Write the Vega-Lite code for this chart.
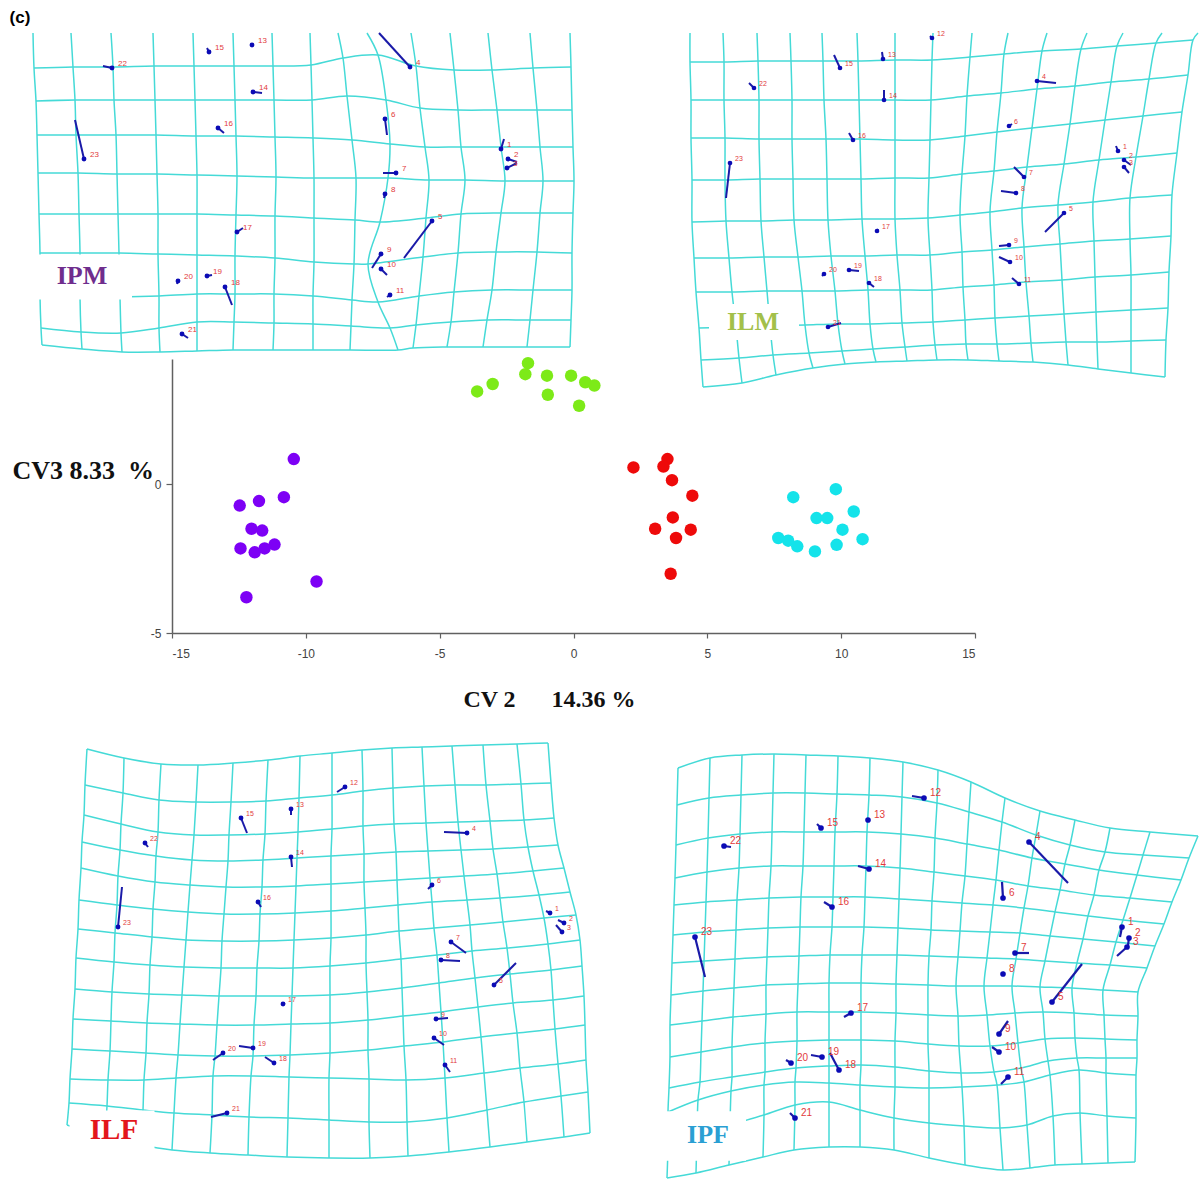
{
"$schema": "https://vega.github.io/schema/vega-lite/v6.json",
"width": 803, "height": 274,
"autosize": {"type": "none"},
"padding": {"left": 172, "top": 359, "right": 226, "bottom": 551},
"background": "white",
"config": {"view": {"stroke": null}},
"datasets": {
"cv": [
{"g":"IPM","cv2":-10.45,"cv3":0.84},{"g":"IPM","cv2":-10.82,"cv3":-0.44},{"g":"IPM","cv2":-11.75,"cv3":-0.57},{"g":"IPM","cv2":-12.47,"cv3":-0.72},{"g":"IPM","cv2":-12.03,"cv3":-1.5},{"g":"IPM","cv2":-11.63,"cv3":-1.56},{"g":"IPM","cv2":-12.44,"cv3":-2.16},{"g":"IPM","cv2":-11.91,"cv3":-2.29},{"g":"IPM","cv2":-11.54,"cv3":-2.16},{"g":"IPM","cv2":-11.17,"cv3":-2.03},{"g":"IPM","cv2":-9.6,"cv3":-3.27},{"g":"IPM","cv2":-12.22,"cv3":-3.8},
{"g":"ILM","cv2":-3.6,"cv3":3.11},{"g":"ILM","cv2":-3.02,"cv3":3.36},{"g":"ILM","cv2":-1.7,"cv3":4.06},{"g":"ILM","cv2":-1.8,"cv3":3.69},{"g":"ILM","cv2":-0.99,"cv3":3.64},{"g":"ILM","cv2":-0.96,"cv3":3.0},{"g":"ILM","cv2":-0.09,"cv3":3.64},{"g":"ILM","cv2":0.21,"cv3":2.63},{"g":"ILM","cv2":0.44,"cv3":3.42},{"g":"ILM","cv2":0.78,"cv3":3.31},
{"g":"ILF","cv2":2.24,"cv3":0.56},{"g":"ILF","cv2":3.51,"cv3":0.84},{"g":"ILF","cv2":3.36,"cv3":0.59},{"g":"ILF","cv2":3.68,"cv3":0.13},{"g":"ILF","cv2":4.44,"cv3":-0.39},{"g":"ILF","cv2":3.71,"cv3":-1.12},{"g":"ILF","cv2":3.05,"cv3":-1.5},{"g":"ILF","cv2":4.38,"cv3":-1.53},{"g":"ILF","cv2":3.83,"cv3":-1.81},{"g":"ILF","cv2":3.63,"cv3":-3.01},
{"g":"IPF","cv2":8.21,"cv3":-0.44},{"g":"IPF","cv2":9.8,"cv3":-0.17},{"g":"IPF","cv2":10.47,"cv3":-0.92},{"g":"IPF","cv2":9.08,"cv3":-1.14},{"g":"IPF","cv2":9.48,"cv3":-1.14},{"g":"IPF","cv2":10.05,"cv3":-1.53},{"g":"IPF","cv2":10.8,"cv3":-1.85},{"g":"IPF","cv2":9.83,"cv3":-2.04},{"g":"IPF","cv2":7.65,"cv3":-1.81},{"g":"IPF","cv2":8.02,"cv3":-1.9},{"g":"IPF","cv2":8.36,"cv3":-2.09},{"g":"IPF","cv2":9.02,"cv3":-2.26}
],
"gIPM": [
{"i":0,"j":0,"x":3,"y":3},{"i":1,"j":0,"x":41,"y":3},{"i":2,"j":0,"x":81,"y":3},{"i":3,"j":0,"x":123,"y":3},{"i":4,"j":0,"x":163,"y":3},{"i":5,"j":0,"x":203,"y":3},{"i":6,"j":0,"x":242,"y":3},{"i":7,"j":0,"x":280,"y":3},{"i":8,"j":0,"x":308,"y":3},{"i":9,"j":0,"x":337,"y":3},{"i":10,"j":0,"x":381,"y":3},{"i":11,"j":0,"x":420,"y":3},{"i":12,"j":0,"x":458,"y":3},{"i":13,"j":0,"x":500,"y":3},{"i":14,"j":0,"x":540,"y":3},
{"i":0,"j":1,"x":4,"y":38},{"i":1,"j":1,"x":43,"y":37},{"i":2,"j":1,"x":83,"y":37},{"i":3,"j":1,"x":124,"y":36},{"i":4,"j":1,"x":164,"y":36},{"i":5,"j":1,"x":204,"y":36},{"i":6,"j":1,"x":243,"y":36},{"i":7,"j":1,"x":281,"y":35},{"i":8,"j":1,"x":313,"y":28},{"i":9,"j":1,"x":348,"y":25},{"i":10,"j":1,"x":386,"y":36},{"i":11,"j":1,"x":424,"y":40},{"i":12,"j":1,"x":462,"y":40},{"i":13,"j":1,"x":503,"y":38},{"i":14,"j":1,"x":541,"y":37},
{"i":0,"j":2,"x":6,"y":71},{"i":1,"j":2,"x":45,"y":70},{"i":2,"j":2,"x":84,"y":70},{"i":3,"j":2,"x":125,"y":70},{"i":4,"j":2,"x":165,"y":70},{"i":5,"j":2,"x":205,"y":70},{"i":6,"j":2,"x":244,"y":70},{"i":7,"j":2,"x":282,"y":70},{"i":8,"j":2,"x":317,"y":66},{"i":9,"j":2,"x":356,"y":70},{"i":10,"j":2,"x":390,"y":78},{"i":11,"j":2,"x":428,"y":80},{"i":12,"j":2,"x":467,"y":80},{"i":13,"j":2,"x":507,"y":80},{"i":14,"j":2,"x":542,"y":80},
{"i":0,"j":3,"x":7,"y":105},{"i":1,"j":3,"x":46,"y":105},{"i":2,"j":3,"x":86,"y":105},{"i":3,"j":3,"x":126,"y":105},{"i":4,"j":3,"x":166,"y":106},{"i":5,"j":3,"x":206,"y":106},{"i":6,"j":3,"x":245,"y":107},{"i":7,"j":3,"x":283,"y":108},{"i":8,"j":3,"x":322,"y":110},{"i":9,"j":3,"x":360,"y":114},{"i":10,"j":3,"x":395,"y":117},{"i":11,"j":3,"x":431,"y":117},{"i":12,"j":3,"x":471,"y":117},{"i":13,"j":3,"x":510,"y":117},{"i":14,"j":3,"x":543,"y":117},
{"i":0,"j":4,"x":8,"y":143},{"i":1,"j":4,"x":48,"y":143},{"i":2,"j":4,"x":87,"y":144},{"i":3,"j":4,"x":127,"y":144},{"i":4,"j":4,"x":167,"y":145},{"i":5,"j":4,"x":207,"y":146},{"i":6,"j":4,"x":246,"y":147},{"i":7,"j":4,"x":284,"y":148},{"i":8,"j":4,"x":326,"y":148},{"i":9,"j":4,"x":358,"y":148},{"i":10,"j":4,"x":399,"y":150},{"i":11,"j":4,"x":435,"y":150},{"i":12,"j":4,"x":475,"y":151},{"i":13,"j":4,"x":513,"y":151},{"i":14,"j":4,"x":544,"y":151},
{"i":0,"j":5,"x":9,"y":184},{"i":1,"j":5,"x":49,"y":184},{"i":2,"j":5,"x":88,"y":184},{"i":3,"j":5,"x":128,"y":184},{"i":4,"j":5,"x":167,"y":184},{"i":5,"j":5,"x":206,"y":185},{"i":6,"j":5,"x":245,"y":186},{"i":7,"j":5,"x":284,"y":188},{"i":8,"j":5,"x":325,"y":190},{"i":9,"j":5,"x":350,"y":192},{"i":10,"j":5,"x":396,"y":188},{"i":11,"j":5,"x":431,"y":184},{"i":12,"j":5,"x":471,"y":183},{"i":13,"j":5,"x":510,"y":183},{"i":14,"j":5,"x":543,"y":183},
{"i":0,"j":6,"x":10,"y":223},{"i":1,"j":6,"x":50,"y":223},{"i":2,"j":6,"x":89,"y":223},{"i":3,"j":6,"x":128,"y":224},{"i":4,"j":6,"x":167,"y":225},{"i":5,"j":6,"x":205,"y":226},{"i":6,"j":6,"x":245,"y":228},{"i":7,"j":6,"x":284,"y":232},{"i":8,"j":6,"x":324,"y":234},{"i":9,"j":6,"x":338,"y":234},{"i":10,"j":6,"x":393,"y":227},{"i":11,"j":6,"x":428,"y":223},{"i":12,"j":6,"x":466,"y":222},{"i":13,"j":6,"x":507,"y":222},{"i":14,"j":6,"x":542,"y":223},
{"i":0,"j":7,"x":10,"y":266},{"i":1,"j":7,"x":50,"y":267},{"i":2,"j":7,"x":90,"y":267},{"i":3,"j":7,"x":129,"y":266},{"i":4,"j":7,"x":167,"y":264},{"i":5,"j":7,"x":205,"y":264},{"i":6,"j":7,"x":244,"y":264},{"i":7,"j":7,"x":283,"y":266},{"i":8,"j":7,"x":322,"y":270},{"i":9,"j":7,"x":348,"y":272},{"i":10,"j":7,"x":389,"y":266},{"i":11,"j":7,"x":424,"y":262},{"i":12,"j":7,"x":462,"y":260},{"i":13,"j":7,"x":503,"y":260},{"i":14,"j":7,"x":542,"y":260},
{"i":0,"j":8,"x":11,"y":298},{"i":1,"j":8,"x":51,"y":302},{"i":2,"j":8,"x":91,"y":303},{"i":3,"j":8,"x":129,"y":298},{"i":4,"j":8,"x":167,"y":292},{"i":5,"j":8,"x":204,"y":292},{"i":6,"j":8,"x":244,"y":293},{"i":7,"j":8,"x":283,"y":294},{"i":8,"j":8,"x":321,"y":296},{"i":9,"j":8,"x":360,"y":298},{"i":10,"j":8,"x":386,"y":295},{"i":11,"j":8,"x":421,"y":292},{"i":12,"j":8,"x":457,"y":290},{"i":13,"j":8,"x":500,"y":290},{"i":14,"j":8,"x":541,"y":290},
{"i":0,"j":9,"x":12,"y":315},{"i":1,"j":9,"x":52,"y":319},{"i":2,"j":9,"x":92,"y":322},{"i":3,"j":9,"x":130,"y":322},{"i":4,"j":9,"x":167,"y":321},{"i":5,"j":9,"x":203,"y":320},{"i":6,"j":9,"x":243,"y":320},{"i":7,"j":9,"x":283,"y":320},{"i":8,"j":9,"x":320,"y":320},{"i":9,"j":9,"x":368,"y":320},{"i":10,"j":9,"x":383,"y":318},{"i":11,"j":9,"x":417,"y":317},{"i":12,"j":9,"x":453,"y":317},{"i":13,"j":9,"x":497,"y":317},{"i":14,"j":9,"x":540,"y":317}
],
"gILM": [
{"i":0,"j":0,"x":0,"y":3},{"i":1,"j":0,"x":33,"y":3},{"i":2,"j":0,"x":67,"y":3},{"i":3,"j":0,"x":100,"y":3},{"i":4,"j":0,"x":132,"y":3},{"i":5,"j":0,"x":167,"y":3},{"i":6,"j":0,"x":205,"y":3},{"i":7,"j":0,"x":243,"y":3},{"i":8,"j":0,"x":282,"y":3},{"i":9,"j":0,"x":318,"y":3},{"i":10,"j":0,"x":357,"y":3},{"i":11,"j":0,"x":397,"y":3},{"i":12,"j":0,"x":433,"y":3},{"i":13,"j":0,"x":472,"y":3},{"i":14,"j":0,"x":508,"y":3},
{"i":0,"j":1,"x":0,"y":32},{"i":1,"j":1,"x":34,"y":32},{"i":2,"j":1,"x":68,"y":31},{"i":3,"j":1,"x":101,"y":31},{"i":4,"j":1,"x":133,"y":31},{"i":5,"j":1,"x":168,"y":31},{"i":6,"j":1,"x":205,"y":30},{"i":7,"j":1,"x":242,"y":30},{"i":8,"j":1,"x":280,"y":27},{"i":9,"j":1,"x":314,"y":24},{"i":10,"j":1,"x":352,"y":21},{"i":11,"j":1,"x":391,"y":19},{"i":12,"j":1,"x":427,"y":16},{"i":13,"j":1,"x":466,"y":13},{"i":14,"j":1,"x":503,"y":10},
{"i":0,"j":2,"x":1,"y":70},{"i":1,"j":2,"x":34,"y":70},{"i":2,"j":2,"x":69,"y":70},{"i":3,"j":2,"x":102,"y":70},{"i":4,"j":2,"x":134,"y":70},{"i":5,"j":2,"x":169,"y":70},{"i":6,"j":2,"x":205,"y":70},{"i":7,"j":2,"x":241,"y":70},{"i":8,"j":2,"x":277,"y":66},{"i":9,"j":2,"x":311,"y":63},{"i":10,"j":2,"x":347,"y":59},{"i":11,"j":2,"x":385,"y":56},{"i":12,"j":2,"x":421,"y":52},{"i":13,"j":2,"x":459,"y":49},{"i":14,"j":2,"x":498,"y":45},
{"i":0,"j":3,"x":1,"y":108},{"i":1,"j":3,"x":35,"y":108},{"i":2,"j":3,"x":69,"y":109},{"i":3,"j":3,"x":102,"y":109},{"i":4,"j":3,"x":136,"y":109},{"i":5,"j":3,"x":170,"y":109},{"i":6,"j":3,"x":205,"y":110},{"i":7,"j":3,"x":240,"y":110},{"i":8,"j":3,"x":275,"y":106},{"i":9,"j":3,"x":307,"y":102},{"i":10,"j":3,"x":342,"y":98},{"i":11,"j":3,"x":380,"y":94},{"i":12,"j":3,"x":415,"y":90},{"i":13,"j":3,"x":453,"y":86},{"i":14,"j":3,"x":492,"y":82},
{"i":0,"j":4,"x":2,"y":150},{"i":1,"j":4,"x":35,"y":150},{"i":2,"j":4,"x":70,"y":149},{"i":3,"j":4,"x":103,"y":149},{"i":4,"j":4,"x":137,"y":149},{"i":5,"j":4,"x":171,"y":149},{"i":6,"j":4,"x":205,"y":148},{"i":7,"j":4,"x":239,"y":148},{"i":8,"j":4,"x":272,"y":144},{"i":9,"j":4,"x":304,"y":141},{"i":10,"j":4,"x":337,"y":137},{"i":11,"j":4,"x":374,"y":134},{"i":12,"j":4,"x":409,"y":130},{"i":13,"j":4,"x":446,"y":127},{"i":14,"j":4,"x":487,"y":123},
{"i":0,"j":5,"x":2,"y":192},{"i":1,"j":5,"x":36,"y":191},{"i":2,"j":5,"x":71,"y":191},{"i":3,"j":5,"x":104,"y":190},{"i":4,"j":5,"x":138,"y":190},{"i":5,"j":5,"x":172,"y":189},{"i":6,"j":5,"x":205,"y":189},{"i":7,"j":5,"x":238,"y":188},{"i":8,"j":5,"x":270,"y":185},{"i":9,"j":5,"x":300,"y":182},{"i":10,"j":5,"x":332,"y":178},{"i":11,"j":5,"x":368,"y":175},{"i":12,"j":5,"x":403,"y":172},{"i":13,"j":5,"x":440,"y":168},{"i":14,"j":5,"x":482,"y":165},
{"i":0,"j":6,"x":4,"y":228},{"i":1,"j":6,"x":39,"y":228},{"i":2,"j":6,"x":74,"y":227},{"i":3,"j":6,"x":108,"y":227},{"i":4,"j":6,"x":141,"y":226},{"i":5,"j":6,"x":175,"y":226},{"i":6,"j":6,"x":207,"y":225},{"i":7,"j":6,"x":240,"y":225},{"i":8,"j":6,"x":272,"y":222},{"i":9,"j":6,"x":302,"y":220},{"i":10,"j":6,"x":334,"y":217},{"i":11,"j":6,"x":370,"y":214},{"i":12,"j":6,"x":404,"y":211},{"i":13,"j":6,"x":440,"y":209},{"i":14,"j":6,"x":481,"y":206},
{"i":0,"j":7,"x":6,"y":262},{"i":1,"j":7,"x":42,"y":262},{"i":2,"j":7,"x":77,"y":261},{"i":3,"j":7,"x":112,"y":261},{"i":4,"j":7,"x":145,"y":261},{"i":5,"j":7,"x":178,"y":260},{"i":6,"j":7,"x":210,"y":260},{"i":7,"j":7,"x":242,"y":260},{"i":8,"j":7,"x":273,"y":257},{"i":9,"j":7,"x":304,"y":255},{"i":10,"j":7,"x":336,"y":252},{"i":11,"j":7,"x":372,"y":250},{"i":12,"j":7,"x":405,"y":247},{"i":13,"j":7,"x":441,"y":245},{"i":14,"j":7,"x":479,"y":242},
{"i":0,"j":8,"x":9,"y":298},{"i":1,"j":8,"x":46,"y":297},{"i":2,"j":8,"x":80,"y":296},{"i":3,"j":8,"x":115,"y":295},{"i":4,"j":8,"x":148,"y":294},{"i":5,"j":8,"x":180,"y":294},{"i":6,"j":8,"x":212,"y":293},{"i":7,"j":8,"x":243,"y":292},{"i":8,"j":8,"x":275,"y":290},{"i":9,"j":8,"x":305,"y":288},{"i":10,"j":8,"x":339,"y":286},{"i":11,"j":8,"x":374,"y":284},{"i":12,"j":8,"x":406,"y":282},{"i":13,"j":8,"x":441,"y":280},{"i":14,"j":8,"x":478,"y":278},
{"i":0,"j":9,"x":11,"y":330},{"i":1,"j":9,"x":49,"y":328},{"i":2,"j":9,"x":83,"y":325},{"i":3,"j":9,"x":119,"y":323},{"i":4,"j":9,"x":152,"y":321},{"i":5,"j":9,"x":183,"y":319},{"i":6,"j":9,"x":215,"y":317},{"i":7,"j":9,"x":245,"y":315},{"i":8,"j":9,"x":276,"y":314},{"i":9,"j":9,"x":307,"y":314},{"i":10,"j":9,"x":341,"y":313},{"i":11,"j":9,"x":376,"y":312},{"i":12,"j":9,"x":407,"y":312},{"i":13,"j":9,"x":441,"y":311},{"i":14,"j":9,"x":476,"y":310},
{"i":0,"j":10,"x":13,"y":357},{"i":1,"j":10,"x":52,"y":353},{"i":2,"j":10,"x":86,"y":345},{"i":3,"j":10,"x":123,"y":338},{"i":4,"j":10,"x":155,"y":334},{"i":5,"j":10,"x":186,"y":332},{"i":6,"j":10,"x":217,"y":331},{"i":7,"j":10,"x":247,"y":330},{"i":8,"j":10,"x":278,"y":330},{"i":9,"j":10,"x":309,"y":331},{"i":10,"j":10,"x":343,"y":332},{"i":11,"j":10,"x":378,"y":335},{"i":12,"j":10,"x":408,"y":339},{"i":13,"j":10,"x":441,"y":343},{"i":14,"j":10,"x":475,"y":347}
],
"gILF": [
{"i":0,"j":0,"x":27,"y":9},{"i":1,"j":0,"x":64,"y":18},{"i":2,"j":0,"x":101,"y":24},{"i":3,"j":0,"x":138,"y":25},{"i":4,"j":0,"x":173,"y":23},{"i":5,"j":0,"x":208,"y":20},{"i":6,"j":0,"x":240,"y":16},{"i":7,"j":0,"x":272,"y":13},{"i":8,"j":0,"x":302,"y":10},{"i":9,"j":0,"x":332,"y":8},{"i":10,"j":0,"x":362,"y":7},{"i":11,"j":0,"x":392,"y":6},{"i":12,"j":0,"x":423,"y":5},{"i":13,"j":0,"x":457,"y":4},{"i":14,"j":0,"x":488,"y":3},
{"i":0,"j":1,"x":25,"y":45},{"i":1,"j":1,"x":63,"y":53},{"i":2,"j":1,"x":99,"y":60},{"i":3,"j":1,"x":136,"y":62},{"i":4,"j":1,"x":171,"y":62},{"i":5,"j":1,"x":206,"y":61},{"i":6,"j":1,"x":239,"y":58},{"i":7,"j":1,"x":272,"y":55},{"i":8,"j":1,"x":303,"y":51},{"i":9,"j":1,"x":333,"y":48},{"i":10,"j":1,"x":364,"y":46},{"i":11,"j":1,"x":395,"y":45},{"i":12,"j":1,"x":426,"y":45},{"i":13,"j":1,"x":461,"y":44},{"i":14,"j":1,"x":491,"y":43},
{"i":0,"j":2,"x":24,"y":75},{"i":1,"j":2,"x":61,"y":84},{"i":2,"j":2,"x":98,"y":92},{"i":3,"j":2,"x":134,"y":95},{"i":4,"j":2,"x":169,"y":95},{"i":5,"j":2,"x":205,"y":94},{"i":6,"j":2,"x":238,"y":92},{"i":7,"j":2,"x":272,"y":89},{"i":8,"j":2,"x":303,"y":86},{"i":9,"j":2,"x":334,"y":84},{"i":10,"j":2,"x":366,"y":83},{"i":11,"j":2,"x":398,"y":82},{"i":12,"j":2,"x":430,"y":81},{"i":13,"j":2,"x":464,"y":80},{"i":14,"j":2,"x":494,"y":78},
{"i":0,"j":3,"x":22,"y":102},{"i":1,"j":3,"x":60,"y":110},{"i":2,"j":3,"x":96,"y":116},{"i":3,"j":3,"x":132,"y":120},{"i":4,"j":3,"x":168,"y":121},{"i":5,"j":3,"x":203,"y":120},{"i":6,"j":3,"x":237,"y":118},{"i":7,"j":3,"x":271,"y":116},{"i":8,"j":3,"x":304,"y":114},{"i":9,"j":3,"x":336,"y":112},{"i":10,"j":3,"x":368,"y":111},{"i":11,"j":3,"x":401,"y":110},{"i":12,"j":3,"x":433,"y":109},{"i":13,"j":3,"x":468,"y":107},{"i":14,"j":3,"x":498,"y":105},
{"i":0,"j":4,"x":21,"y":128},{"i":1,"j":4,"x":58,"y":136},{"i":2,"j":4,"x":95,"y":142},{"i":3,"j":4,"x":130,"y":145},{"i":4,"j":4,"x":166,"y":147},{"i":5,"j":4,"x":202,"y":147},{"i":6,"j":4,"x":236,"y":146},{"i":7,"j":4,"x":271,"y":144},{"i":8,"j":4,"x":304,"y":142},{"i":9,"j":4,"x":337,"y":140},{"i":10,"j":4,"x":370,"y":138},{"i":11,"j":4,"x":404,"y":136},{"i":12,"j":4,"x":437,"y":134},{"i":13,"j":4,"x":473,"y":131},{"i":14,"j":4,"x":504,"y":128},
{"i":0,"j":5,"x":19,"y":160},{"i":1,"j":5,"x":57,"y":165},{"i":2,"j":5,"x":93,"y":169},{"i":3,"j":5,"x":128,"y":172},{"i":4,"j":5,"x":164,"y":174},{"i":5,"j":5,"x":200,"y":174},{"i":6,"j":5,"x":235,"y":173},{"i":7,"j":5,"x":271,"y":171},{"i":8,"j":5,"x":305,"y":168},{"i":9,"j":5,"x":338,"y":165},{"i":10,"j":5,"x":372,"y":162},{"i":11,"j":5,"x":407,"y":160},{"i":12,"j":5,"x":440,"y":158},{"i":13,"j":5,"x":479,"y":155},{"i":14,"j":5,"x":510,"y":152},
{"i":0,"j":6,"x":18,"y":189},{"i":1,"j":6,"x":55,"y":193},{"i":2,"j":6,"x":92,"y":197},{"i":3,"j":6,"x":126,"y":200},{"i":4,"j":6,"x":162,"y":201},{"i":5,"j":6,"x":199,"y":201},{"i":6,"j":6,"x":234,"y":200},{"i":7,"j":6,"x":271,"y":198},{"i":8,"j":6,"x":306,"y":195},{"i":9,"j":6,"x":339,"y":191},{"i":10,"j":6,"x":374,"y":188},{"i":11,"j":6,"x":410,"y":185},{"i":12,"j":6,"x":443,"y":182},{"i":13,"j":6,"x":484,"y":178},{"i":14,"j":6,"x":516,"y":175},
{"i":0,"j":7,"x":16,"y":218},{"i":1,"j":7,"x":54,"y":222},{"i":2,"j":7,"x":90,"y":225},{"i":3,"j":7,"x":124,"y":227},{"i":4,"j":7,"x":161,"y":228},{"i":5,"j":7,"x":197,"y":228},{"i":6,"j":7,"x":233,"y":228},{"i":7,"j":7,"x":270,"y":226},{"i":8,"j":7,"x":306,"y":223},{"i":9,"j":7,"x":341,"y":219},{"i":10,"j":7,"x":377,"y":215},{"i":11,"j":7,"x":412,"y":211},{"i":12,"j":7,"x":447,"y":208},{"i":13,"j":7,"x":488,"y":204},{"i":14,"j":7,"x":520,"y":200},
{"i":0,"j":8,"x":15,"y":249},{"i":1,"j":8,"x":52,"y":252},{"i":2,"j":8,"x":89,"y":254},{"i":3,"j":8,"x":122,"y":255},{"i":4,"j":8,"x":159,"y":256},{"i":5,"j":8,"x":196,"y":256},{"i":6,"j":8,"x":232,"y":256},{"i":7,"j":8,"x":270,"y":255},{"i":8,"j":8,"x":307,"y":252},{"i":9,"j":8,"x":342,"y":248},{"i":10,"j":8,"x":379,"y":243},{"i":11,"j":8,"x":415,"y":238},{"i":12,"j":8,"x":450,"y":234},{"i":13,"j":8,"x":491,"y":230},{"i":14,"j":8,"x":522,"y":226},
{"i":0,"j":9,"x":13,"y":279},{"i":1,"j":9,"x":51,"y":281},{"i":2,"j":9,"x":87,"y":283},{"i":3,"j":9,"x":120,"y":284},{"i":4,"j":9,"x":157,"y":285},{"i":5,"j":9,"x":194,"y":285},{"i":6,"j":9,"x":231,"y":284},{"i":7,"j":9,"x":270,"y":283},{"i":8,"j":9,"x":308,"y":280},{"i":9,"j":9,"x":343,"y":276},{"i":10,"j":9,"x":381,"y":272},{"i":11,"j":9,"x":418,"y":267},{"i":12,"j":9,"x":453,"y":263},{"i":13,"j":9,"x":493,"y":260},{"i":14,"j":9,"x":524,"y":256},
{"i":0,"j":10,"x":12,"y":309},{"i":1,"j":10,"x":50,"y":311},{"i":2,"j":10,"x":86,"y":313},{"i":3,"j":10,"x":118,"y":315},{"i":4,"j":10,"x":155,"y":316},{"i":5,"j":10,"x":193,"y":316},{"i":6,"j":10,"x":230,"y":315},{"i":7,"j":10,"x":270,"y":313},{"i":8,"j":10,"x":308,"y":310},{"i":9,"j":10,"x":344,"y":306},{"i":10,"j":10,"x":383,"y":302},{"i":11,"j":10,"x":421,"y":297},{"i":12,"j":10,"x":457,"y":293},{"i":13,"j":10,"x":495,"y":289},{"i":14,"j":10,"x":525,"y":285},
{"i":0,"j":11,"x":10,"y":339},{"i":1,"j":11,"x":48,"y":340},{"i":2,"j":11,"x":84,"y":340},{"i":3,"j":11,"x":116,"y":338},{"i":4,"j":11,"x":153,"y":336},{"i":5,"j":11,"x":191,"y":336},{"i":6,"j":11,"x":229,"y":337},{"i":7,"j":11,"x":269,"y":338},{"i":8,"j":11,"x":309,"y":339},{"i":9,"j":11,"x":346,"y":340},{"i":10,"j":11,"x":385,"y":338},{"i":11,"j":11,"x":424,"y":333},{"i":12,"j":11,"x":460,"y":328},{"i":13,"j":11,"x":498,"y":324},{"i":14,"j":11,"x":526,"y":320},
{"i":0,"j":12,"x":9,"y":363},{"i":1,"j":12,"x":47,"y":366},{"i":2,"j":12,"x":83,"y":370},{"i":3,"j":12,"x":114,"y":373},{"i":4,"j":12,"x":152,"y":375},{"i":5,"j":12,"x":189,"y":377},{"i":6,"j":12,"x":228,"y":378},{"i":7,"j":12,"x":269,"y":380},{"i":8,"j":12,"x":309,"y":382},{"i":9,"j":12,"x":347,"y":382},{"i":10,"j":12,"x":387,"y":378},{"i":11,"j":12,"x":427,"y":370},{"i":12,"j":12,"x":464,"y":362},{"i":13,"j":12,"x":501,"y":356},{"i":14,"j":12,"x":528,"y":352},
{"i":0,"j":13,"x":7,"y":385},{"i":1,"j":13,"x":45,"y":397},{"i":2,"j":13,"x":81,"y":405},{"i":3,"j":13,"x":112,"y":410},{"i":4,"j":13,"x":150,"y":413},{"i":5,"j":13,"x":188,"y":415},{"i":6,"j":13,"x":227,"y":417},{"i":7,"j":13,"x":269,"y":418},{"i":8,"j":13,"x":310,"y":418},{"i":9,"j":13,"x":348,"y":416},{"i":10,"j":13,"x":389,"y":412},{"i":11,"j":13,"x":430,"y":407},{"i":12,"j":13,"x":467,"y":402},{"i":13,"j":13,"x":504,"y":397},{"i":14,"j":13,"x":530,"y":393}
],
"gIPF": [
{"i":0,"j":0,"x":18,"y":28},{"i":1,"j":0,"x":50,"y":18},{"i":2,"j":0,"x":82,"y":15},{"i":3,"j":0,"x":114,"y":14},{"i":4,"j":0,"x":146,"y":15},{"i":5,"j":0,"x":178,"y":16},{"i":6,"j":0,"x":210,"y":18},{"i":7,"j":0,"x":243,"y":22},{"i":8,"j":0,"x":278,"y":30},{"i":9,"j":0,"x":311,"y":42},{"i":10,"j":0,"x":345,"y":58},{"i":11,"j":0,"x":380,"y":71},{"i":12,"j":0,"x":415,"y":80},{"i":13,"j":0,"x":450,"y":88},{"i":14,"j":0,"x":490,"y":92},{"i":15,"j":0,"x":538,"y":96},
{"i":0,"j":1,"x":17,"y":65},{"i":1,"j":1,"x":49,"y":58},{"i":2,"j":1,"x":81,"y":55},{"i":3,"j":1,"x":113,"y":53},{"i":4,"j":1,"x":145,"y":53},{"i":5,"j":1,"x":177,"y":54},{"i":6,"j":1,"x":209,"y":55},{"i":7,"j":1,"x":242,"y":57},{"i":8,"j":1,"x":277,"y":63},{"i":9,"j":1,"x":309,"y":72},{"i":10,"j":1,"x":342,"y":82},{"i":11,"j":1,"x":376,"y":95},{"i":12,"j":1,"x":410,"y":105},{"i":13,"j":1,"x":445,"y":112},{"i":14,"j":1,"x":483,"y":115},{"i":15,"j":1,"x":529,"y":118},
{"i":0,"j":2,"x":16,"y":105},{"i":1,"j":2,"x":48,"y":98},{"i":2,"j":2,"x":80,"y":94},{"i":3,"j":2,"x":112,"y":92},{"i":4,"j":2,"x":144,"y":92},{"i":5,"j":2,"x":175,"y":92},{"i":6,"j":2,"x":207,"y":92},{"i":7,"j":2,"x":241,"y":94},{"i":8,"j":2,"x":275,"y":98},{"i":9,"j":2,"x":307,"y":104},{"i":10,"j":2,"x":339,"y":110},{"i":11,"j":2,"x":372,"y":118},{"i":12,"j":2,"x":405,"y":124},{"i":13,"j":2,"x":439,"y":130},{"i":14,"j":2,"x":477,"y":135},{"i":15,"j":2,"x":521,"y":140},
{"i":0,"j":3,"x":15,"y":138},{"i":1,"j":3,"x":47,"y":132},{"i":2,"j":3,"x":79,"y":128},{"i":3,"j":3,"x":111,"y":126},{"i":4,"j":3,"x":143,"y":126},{"i":5,"j":3,"x":174,"y":126},{"i":6,"j":3,"x":206,"y":126},{"i":7,"j":3,"x":240,"y":128},{"i":8,"j":3,"x":274,"y":132},{"i":9,"j":3,"x":305,"y":136},{"i":10,"j":3,"x":336,"y":140},{"i":11,"j":3,"x":368,"y":146},{"i":12,"j":3,"x":400,"y":150},{"i":13,"j":3,"x":434,"y":155},{"i":14,"j":3,"x":470,"y":158},{"i":15,"j":3,"x":512,"y":162},
{"i":0,"j":4,"x":14,"y":165},{"i":1,"j":4,"x":46,"y":162},{"i":2,"j":4,"x":77,"y":160},{"i":3,"j":4,"x":109,"y":158},{"i":4,"j":4,"x":141,"y":157},{"i":5,"j":4,"x":173,"y":157},{"i":6,"j":4,"x":205,"y":157},{"i":7,"j":4,"x":239,"y":159},{"i":8,"j":4,"x":272,"y":161},{"i":9,"j":4,"x":302,"y":163},{"i":10,"j":4,"x":333,"y":165},{"i":11,"j":4,"x":364,"y":168},{"i":12,"j":4,"x":395,"y":172},{"i":13,"j":4,"x":428,"y":176},{"i":14,"j":4,"x":463,"y":180},{"i":15,"j":4,"x":504,"y":184},
{"i":0,"j":5,"x":13,"y":195},{"i":1,"j":5,"x":45,"y":192},{"i":2,"j":5,"x":76,"y":190},{"i":3,"j":5,"x":108,"y":188},{"i":4,"j":5,"x":140,"y":187},{"i":5,"j":5,"x":172,"y":187},{"i":6,"j":5,"x":204,"y":187},{"i":7,"j":5,"x":238,"y":188},{"i":8,"j":5,"x":271,"y":190},{"i":9,"j":5,"x":300,"y":191},{"i":10,"j":5,"x":330,"y":192},{"i":11,"j":5,"x":360,"y":193},{"i":12,"j":5,"x":390,"y":196},{"i":13,"j":5,"x":423,"y":199},{"i":14,"j":5,"x":456,"y":202},{"i":15,"j":5,"x":495,"y":206},
{"i":0,"j":6,"x":12,"y":223},{"i":1,"j":6,"x":44,"y":221},{"i":2,"j":6,"x":75,"y":219},{"i":3,"j":6,"x":107,"y":217},{"i":4,"j":6,"x":139,"y":216},{"i":5,"j":6,"x":170,"y":215},{"i":6,"j":6,"x":202,"y":215},{"i":7,"j":6,"x":237,"y":215},{"i":8,"j":6,"x":269,"y":216},{"i":9,"j":6,"x":298,"y":217},{"i":10,"j":6,"x":327,"y":218},{"i":11,"j":6,"x":356,"y":219},{"i":12,"j":6,"x":385,"y":221},{"i":13,"j":6,"x":417,"y":223},{"i":14,"j":6,"x":450,"y":225},{"i":15,"j":6,"x":487,"y":228},
{"i":0,"j":7,"x":11,"y":255},{"i":1,"j":7,"x":43,"y":251},{"i":2,"j":7,"x":74,"y":248},{"i":3,"j":7,"x":106,"y":245},{"i":4,"j":7,"x":138,"y":244},{"i":5,"j":7,"x":169,"y":243},{"i":6,"j":7,"x":201,"y":243},{"i":7,"j":7,"x":236,"y":244},{"i":8,"j":7,"x":268,"y":245},{"i":9,"j":7,"x":296,"y":246},{"i":10,"j":7,"x":324,"y":246},{"i":11,"j":7,"x":352,"y":246},{"i":12,"j":7,"x":380,"y":247},{"i":13,"j":7,"x":412,"y":248},{"i":14,"j":7,"x":443,"y":250},{"i":15,"j":7,"x":478,"y":252},
{"i":0,"j":8,"x":10,"y":285},{"i":1,"j":8,"x":42,"y":281},{"i":2,"j":8,"x":73,"y":277},{"i":3,"j":8,"x":106,"y":274},{"i":4,"j":8,"x":137,"y":272},{"i":5,"j":8,"x":169,"y":272},{"i":6,"j":8,"x":201,"y":272},{"i":7,"j":8,"x":236,"y":273},{"i":8,"j":8,"x":268,"y":275},{"i":9,"j":8,"x":298,"y":276},{"i":10,"j":8,"x":327,"y":275},{"i":11,"j":8,"x":355,"y":273},{"i":12,"j":8,"x":383,"y":272},{"i":13,"j":8,"x":414,"y":273},{"i":14,"j":8,"x":444,"y":275},{"i":15,"j":8,"x":478,"y":276},
{"i":0,"j":9,"x":10,"y":317},{"i":1,"j":9,"x":41,"y":312},{"i":2,"j":9,"x":72,"y":307},{"i":3,"j":9,"x":105,"y":303},{"i":4,"j":9,"x":137,"y":301},{"i":5,"j":9,"x":169,"y":300},{"i":6,"j":9,"x":201,"y":300},{"i":7,"j":9,"x":235,"y":301},{"i":8,"j":9,"x":268,"y":304},{"i":9,"j":9,"x":299,"y":306},{"i":10,"j":9,"x":330,"y":306},{"i":11,"j":9,"x":358,"y":303},{"i":12,"j":9,"x":385,"y":299},{"i":13,"j":9,"x":415,"y":298},{"i":14,"j":9,"x":445,"y":299},{"i":15,"j":9,"x":477,"y":300},
{"i":0,"j":10,"x":9,"y":348},{"i":1,"j":10,"x":40,"y":342},{"i":2,"j":10,"x":72,"y":337},{"i":3,"j":10,"x":105,"y":332},{"i":4,"j":10,"x":136,"y":328},{"i":5,"j":10,"x":169,"y":326},{"i":6,"j":10,"x":201,"y":325},{"i":7,"j":10,"x":235,"y":327},{"i":8,"j":10,"x":269,"y":331},{"i":9,"j":10,"x":301,"y":333},{"i":10,"j":10,"x":334,"y":332},{"i":11,"j":10,"x":361,"y":328},{"i":12,"j":10,"x":388,"y":321},{"i":13,"j":10,"x":417,"y":318},{"i":14,"j":10,"x":446,"y":318},{"i":15,"j":10,"x":477,"y":318},
{"i":0,"j":11,"x":8,"y":372},{"i":1,"j":11,"x":38,"y":360},{"i":2,"j":11,"x":71,"y":351},{"i":3,"j":11,"x":104,"y":345},{"i":4,"j":11,"x":135,"y":342},{"i":5,"j":11,"x":169,"y":343},{"i":6,"j":11,"x":200,"y":345},{"i":7,"j":11,"x":235,"y":347},{"i":8,"j":11,"x":269,"y":348},{"i":9,"j":11,"x":302,"y":347},{"i":10,"j":11,"x":337,"y":345},{"i":11,"j":11,"x":364,"y":342},{"i":12,"j":11,"x":390,"y":335},{"i":13,"j":11,"x":419,"y":330},{"i":14,"j":11,"x":446,"y":333},{"i":15,"j":11,"x":476,"y":335},
{"i":0,"j":12,"x":8,"y":405},{"i":1,"j":12,"x":37,"y":395},{"i":2,"j":12,"x":70,"y":385},{"i":3,"j":12,"x":104,"y":375},{"i":4,"j":12,"x":135,"y":365},{"i":5,"j":12,"x":169,"y":362},{"i":6,"j":12,"x":200,"y":370},{"i":7,"j":12,"x":234,"y":378},{"i":8,"j":12,"x":269,"y":383},{"i":9,"j":12,"x":304,"y":386},{"i":10,"j":12,"x":340,"y":388},{"i":11,"j":12,"x":367,"y":385},{"i":12,"j":12,"x":393,"y":376},{"i":13,"j":12,"x":420,"y":373},{"i":14,"j":12,"x":447,"y":376},{"i":15,"j":12,"x":476,"y":378},
{"i":0,"j":13,"x":7,"y":438},{"i":1,"j":13,"x":36,"y":433},{"i":2,"j":13,"x":69,"y":425},{"i":3,"j":13,"x":103,"y":417},{"i":4,"j":13,"x":134,"y":410},{"i":5,"j":13,"x":169,"y":407},{"i":6,"j":13,"x":200,"y":407},{"i":7,"j":13,"x":234,"y":410},{"i":8,"j":13,"x":269,"y":418},{"i":9,"j":13,"x":305,"y":425},{"i":10,"j":13,"x":343,"y":430},{"i":11,"j":13,"x":370,"y":428},{"i":12,"j":13,"x":395,"y":425},{"i":13,"j":13,"x":422,"y":424},{"i":14,"j":13,"x":448,"y":423},{"i":15,"j":13,"x":475,"y":422}
],
"lIPM": [
{"n":"1","x":471,"y":119,"x2":474,"y2":109},{"n":"2","x":478,"y":129,"x2":487,"y2":132},{"n":"3","x":477,"y":138,"x2":487,"y2":133},{"n":"4","x":380,"y":37,"x2":349,"y2":3},{"n":"5","x":402,"y":191,"x2":374,"y2":228},{"n":"6","x":355,"y":89,"x2":357,"y2":105},{"n":"7","x":366,"y":143,"x2":353,"y2":143},{"n":"8","x":355,"y":164,"x2":354,"y2":168},{"n":"9","x":351,"y":224,"x2":342,"y2":238},{"n":"10","x":351,"y":239,"x2":357,"y2":245},{"n":"11","x":360,"y":265,"x2":357,"y2":267},{"n":"13","x":222,"y":15,"x2":222,"y2":17},{"n":"14","x":223,"y":62,"x2":232,"y2":63},{"n":"15","x":179,"y":22,"x2":177,"y2":18},{"n":"16","x":188,"y":98,"x2":194,"y2":103},{"n":"17","x":207,"y":202,"x2":213,"y2":198},{"n":"18","x":195,"y":257,"x2":202,"y2":275},{"n":"19","x":177,"y":246,"x2":182,"y2":245},{"n":"20","x":148,"y":251,"x2":147,"y2":254},{"n":"21","x":152,"y":304,"x2":158,"y2":308},{"n":"22","x":82,"y":38,"x2":73,"y2":36},{"n":"23","x":54,"y":129,"x2":45,"y2":90}
],
"lILM": [
{"n":"12","x":242,"y":8,"x2":240,"y2":6},{"n":"13","x":193,"y":29,"x2":192,"y2":22},{"n":"15","x":150,"y":38,"x2":144,"y2":25},{"n":"22","x":64,"y":58,"x2":59,"y2":53},{"n":"14","x":194,"y":70,"x2":194,"y2":60},{"n":"4","x":347,"y":51,"x2":366,"y2":53},{"n":"6","x":319,"y":96,"x2":322,"y2":94},{"n":"16","x":163,"y":110,"x2":159,"y2":103},{"n":"23","x":40,"y":133,"x2":36,"y2":168},{"n":"1","x":428,"y":121,"x2":426,"y2":116},{"n":"2","x":434,"y":130,"x2":441,"y2":135},{"n":"3","x":434,"y":137,"x2":439,"y2":143},{"n":"7","x":334,"y":147,"x2":324,"y2":137},{"n":"8","x":326,"y":163,"x2":311,"y2":161},{"n":"5","x":374,"y":183,"x2":355,"y2":202},{"n":"17","x":187,"y":201,"x2":188,"y2":199},{"n":"9","x":319,"y":215,"x2":309,"y2":216},{"n":"10","x":320,"y":232,"x2":309,"y2":227},{"n":"11","x":329,"y":254,"x2":322,"y2":248},{"n":"20","x":134,"y":244,"x2":132,"y2":246},{"n":"19","x":159,"y":240,"x2":169,"y2":241},{"n":"18","x":179,"y":253,"x2":184,"y2":257},{"n":"21","x":138,"y":297,"x2":151,"y2":293}
],
"lILF": [
{"n":"12","x":285,"y":47,"x2":277,"y2":52},{"n":"13","x":231,"y":69,"x2":231,"y2":75},{"n":"15","x":181,"y":78,"x2":187,"y2":93},{"n":"22","x":85,"y":103,"x2":88,"y2":107},{"n":"4","x":407,"y":93,"x2":384,"y2":92},{"n":"14","x":231,"y":117,"x2":232,"y2":127},{"n":"6","x":372,"y":145,"x2":368,"y2":149},{"n":"16","x":198,"y":162,"x2":201,"y2":167},{"n":"23","x":58,"y":187,"x2":62,"y2":147},{"n":"1","x":490,"y":173,"x2":486,"y2":171},{"n":"2","x":504,"y":183,"x2":498,"y2":180},{"n":"3","x":502,"y":192,"x2":496,"y2":185},{"n":"7","x":391,"y":202,"x2":406,"y2":213},{"n":"8","x":381,"y":220,"x2":400,"y2":221},{"n":"5","x":434,"y":245,"x2":456,"y2":223},{"n":"17","x":223,"y":264,"x2":225,"y2":263},{"n":"9","x":376,"y":279,"x2":388,"y2":278},{"n":"10","x":374,"y":298,"x2":384,"y2":305},{"n":"11","x":385,"y":325,"x2":390,"y2":332},{"n":"20","x":163,"y":313,"x2":153,"y2":320},{"n":"19","x":193,"y":308,"x2":179,"y2":306},{"n":"18","x":214,"y":323,"x2":205,"y2":317},{"n":"21","x":167,"y":373,"x2":151,"y2":377}
],
"lIPF": [
{"n":"12","x":264,"y":58,"x2":252,"y2":56},{"n":"13","x":208,"y":80,"x2":208,"y2":81},{"n":"15","x":161,"y":88,"x2":157,"y2":84},{"n":"22","x":64,"y":106,"x2":71,"y2":107},{"n":"14","x":209,"y":129,"x2":198,"y2":126},{"n":"4","x":369,"y":102,"x2":408,"y2":143},{"n":"6","x":343,"y":158,"x2":342,"y2":142},{"n":"16","x":172,"y":167,"x2":164,"y2":162},{"n":"23","x":35,"y":197,"x2":45,"y2":237},{"n":"1","x":462,"y":187,"x2":460,"y2":197},{"n":"2","x":469,"y":198,"x2":468,"y2":205},{"n":"3","x":467,"y":207,"x2":457,"y2":216},{"n":"7","x":355,"y":213,"x2":369,"y2":213},{"n":"8","x":343,"y":234,"x2":344,"y2":232},{"n":"5","x":392,"y":262,"x2":422,"y2":224},{"n":"17","x":191,"y":273,"x2":184,"y2":277},{"n":"9","x":339,"y":294,"x2":348,"y2":281},{"n":"10","x":339,"y":312,"x2":332,"y2":307},{"n":"11","x":348,"y":337,"x2":341,"y2":344},{"n":"20","x":131,"y":323,"x2":126,"y2":320},{"n":"19","x":162,"y":317,"x2":151,"y2":315},{"n":"18","x":179,"y":330,"x2":170,"y2":313},{"n":"21","x":135,"y":378,"x2":130,"y2":373}
]
},
"layer": [
{
"encoding": {
"x": {"field": "x", "type": "quantitative", "axis": null, "scale": {"domain": [0, 560], "range": [-142, 418], "nice": false, "zero": false}},
"y": {"field": "y", "type": "quantitative", "axis": null, "scale": {"domain": [0, 330], "range": [-329, 1], "nice": false, "zero": false}}
},
"layer": [
{"data": {"name": "gIPM"}, "transform": [{"filter": "datum.j > 0"}], "mark": {"type": "line", "color": "#45dad7", "strokeWidth": 1.5, "interpolate": "catmull-rom"}, "encoding": {"detail": {"field": "j", "type": "nominal"}, "order": {"field": "i", "type": "quantitative"}}},
{"data": {"name": "gIPM"}, "mark": {"type": "line", "color": "#45dad7", "strokeWidth": 1.5, "interpolate": "catmull-rom"}, "encoding": {"detail": {"field": "i", "type": "nominal"}, "order": {"field": "j", "type": "quantitative"}}},
{"data": {"values": [{"t": "IPM", "x": 52, "y": 247}]}, "mark": {"type": "point", "shape": "M-1,-0.45H1V0.45H-1Z", "filled": true, "color": "white", "opacity": 1, "strokeWidth": 0, "size": 10000}},
{"data": {"name": "lIPM"}, "mark": {"type": "rule", "color": "#1a1aa8", "strokeWidth": 2}, "encoding": {"x2": {"field": "x2"}, "y2": {"field": "y2"}}},
{"data": {"name": "lIPM"}, "mark": {"type": "circle", "color": "#0b0bb5", "size": 24, "opacity": 1}},
{"data": {"name": "lIPM"}, "mark": {"type": "text", "color": "#e23b3b", "font": "Liberation Sans", "fontSize": 8, "dx": 6, "dy": -4, "align": "left"}, "encoding": {"text": {"field": "n"}}},
{"data": {"values": [{"t": "IPM", "x": 52, "y": 246}]}, "mark": {"type": "text", "font": "Liberation Serif", "fontWeight": "bold", "fontSize": 26, "color": "#6f2d8d", "baseline": "middle"}, "encoding": {"text": {"field": "t"}}},
{"data": {"values": [{"t": "(c)", "x": -10, "y": -12}]}, "mark": {"type": "text", "font": "Liberation Sans", "fontWeight": "bold", "fontSize": 17, "color": "black", "baseline": "middle"}, "encoding": {"text": {"field": "t"}}}
]
},
{
"encoding": {
"x": {"field": "x", "type": "quantitative", "axis": null, "scale": {"domain": [0, 520], "range": [518, 1038], "nice": false, "zero": false}},
"y": {"field": "y", "type": "quantitative", "axis": null, "scale": {"domain": [0, 370], "range": [-329, 41], "nice": false, "zero": false}}
},
"layer": [
{"data": {"name": "gILM"}, "transform": [{"filter": "datum.j > 0"}], "mark": {"type": "line", "color": "#45dad7", "strokeWidth": 1.5, "interpolate": "catmull-rom"}, "encoding": {"detail": {"field": "j", "type": "nominal"}, "order": {"field": "i", "type": "quantitative"}}},
{"data": {"name": "gILM"}, "mark": {"type": "line", "color": "#45dad7", "strokeWidth": 1.5, "interpolate": "catmull-rom"}, "encoding": {"detail": {"field": "i", "type": "nominal"}, "order": {"field": "j", "type": "quantitative"}}},
{"data": {"values": [{"t": "ILM", "x": 64, "y": 292}]}, "mark": {"type": "point", "shape": "M-1,-0.4H1V0.4H-1Z", "filled": true, "color": "white", "opacity": 1, "strokeWidth": 0, "size": 8100}},
{"data": {"name": "lILM"}, "mark": {"type": "rule", "color": "#1a1aa8", "strokeWidth": 2}, "encoding": {"x2": {"field": "x2"}, "y2": {"field": "y2"}}},
{"data": {"name": "lILM"}, "mark": {"type": "circle", "color": "#0b0bb5", "size": 22, "opacity": 1}},
{"data": {"name": "lILM"}, "mark": {"type": "text", "color": "#e23b3b", "font": "Liberation Sans", "fontSize": 7, "dx": 5, "dy": -4, "align": "left"}, "encoding": {"text": {"field": "n"}}},
{"data": {"values": [{"t": "ILM", "x": 63, "y": 292}]}, "mark": {"type": "text", "font": "Liberation Serif", "fontWeight": "bold", "fontSize": 26, "color": "#a3c04a", "baseline": "middle"}, "encoding": {"text": {"field": "t"}}}
]
},
{
"encoding": {
"x": {"field": "x", "type": "quantitative", "axis": null, "scale": {"domain": [0, 560], "range": [-112, 448], "nice": false, "zero": false}},
"y": {"field": "y", "type": "quantitative", "axis": null, "scale": {"domain": [0, 440], "range": [381, 821], "nice": false, "zero": false}}
},
"layer": [
{"data": {"name": "gILF"}, "mark": {"type": "line", "color": "#45dad7", "strokeWidth": 1.5, "interpolate": "catmull-rom"}, "encoding": {"detail": {"field": "j", "type": "nominal"}, "order": {"field": "i", "type": "quantitative"}}},
{"data": {"name": "gILF"}, "mark": {"type": "line", "color": "#45dad7", "strokeWidth": 1.5, "interpolate": "catmull-rom"}, "encoding": {"detail": {"field": "i", "type": "nominal"}, "order": {"field": "j", "type": "quantitative"}}},
{"data": {"values": [{"t": "ILF", "x": 52, "y": 393}]}, "mark": {"type": "point", "shape": "M-1,-0.53H1V0.53H-1Z", "filled": true, "color": "white", "opacity": 1, "strokeWidth": 0, "size": 7225}},
{"data": {"name": "lILF"}, "mark": {"type": "rule", "color": "#1a1aa8", "strokeWidth": 2}, "encoding": {"x2": {"field": "x2"}, "y2": {"field": "y2"}}},
{"data": {"name": "lILF"}, "mark": {"type": "circle", "color": "#0b0bb5", "size": 24, "opacity": 1}},
{"data": {"name": "lILF"}, "mark": {"type": "text", "color": "#e23b3b", "font": "Liberation Sans", "fontSize": 7, "dx": 5, "dy": -4, "align": "left"}, "encoding": {"text": {"field": "n"}}},
{"data": {"values": [{"t": "ILF", "x": 54, "y": 390}]}, "mark": {"type": "text", "font": "Liberation Serif", "fontWeight": "bold", "fontSize": 29, "color": "#e3161c", "baseline": "middle"}, "encoding": {"text": {"field": "t"}}}
]
},
{
"encoding": {
"x": {"field": "x", "type": "quantitative", "axis": null, "scale": {"domain": [0, 560], "range": [488, 1048], "nice": false, "zero": false}},
"y": {"field": "y", "type": "quantitative", "axis": null, "scale": {"domain": [0, 440], "range": [381, 821], "nice": false, "zero": false}}
},
"layer": [
{"data": {"name": "gIPF"}, "mark": {"type": "line", "color": "#45dad7", "strokeWidth": 1.5, "interpolate": "catmull-rom"}, "encoding": {"detail": {"field": "j", "type": "nominal"}, "order": {"field": "i", "type": "quantitative"}}},
{"data": {"name": "gIPF"}, "mark": {"type": "line", "color": "#45dad7", "strokeWidth": 1.5, "interpolate": "catmull-rom"}, "encoding": {"detail": {"field": "i", "type": "nominal"}, "order": {"field": "j", "type": "quantitative"}}},
{"data": {"values": [{"t": "IPF", "x": 46, "y": 396}]}, "mark": {"type": "point", "shape": "M-1,-0.62H1V0.62H-1Z", "filled": true, "color": "white", "opacity": 1, "strokeWidth": 0, "size": 6400}},
{"data": {"name": "lIPF"}, "mark": {"type": "rule", "color": "#1a1aa8", "strokeWidth": 2.2}, "encoding": {"x2": {"field": "x2"}, "y2": {"field": "y2"}}},
{"data": {"name": "lIPF"}, "mark": {"type": "circle", "color": "#0b0bb5", "size": 32, "opacity": 1}},
{"data": {"name": "lIPF"}, "mark": {"type": "text", "color": "#e23b3b", "font": "Liberation Sans", "fontSize": 10, "dx": 6, "dy": -5, "align": "left"}, "encoding": {"text": {"field": "n"}}},
{"data": {"values": [{"t": "IPF", "x": 48, "y": 395}]}, "mark": {"type": "text", "font": "Liberation Serif", "fontWeight": "bold", "fontSize": 26, "color": "#2a9fd3", "baseline": "middle"}, "encoding": {"text": {"field": "t"}}}
]
},
{
"data": {"name": "cv"},
"mark": {"type": "circle", "size": 155, "opacity": 1},
"encoding": {
"x": {"field": "cv2", "type": "quantitative", "scale": {"domain": [-15, 15], "nice": false, "zero": false},
 "axis": {"orient": "bottom", "values": [-15, -10, -5, 0, 5, 10, 15], "labelExpr": "datum.value + ''", "grid": false,
  "domainColor": "#606060", "domainWidth": 1.5, "tickColor": "#606060", "tickWidth": 1.2, "tickSize": 5,
  "labelFont": "Liberation Sans", "labelFontSize": 12, "labelColor": "#444", "labelPadding": 10,
  "title": "CV 2\u00a0\u00a0\u00a0\u00a0\u00a0\u00a014.36 %", "titleFont": "Liberation Serif", "titleFontWeight": "bold", "titleFontSize": 24, "titleColor": "#111",
  "titleX": 377, "titleY": 66, "titleAlign": "center", "titleBaseline": "middle"}},
"y": {"field": "cv3", "type": "quantitative", "scale": {"domain": [-5, 4.2], "nice": false, "zero": false},
 "axis": {"orient": "left", "values": [-5, 0], "labelExpr": "datum.value + ''", "grid": false,
  "domainColor": "#606060", "domainWidth": 1.5, "tickColor": "#606060", "tickWidth": 1.2, "tickSize": 6,
  "labelFont": "Liberation Sans", "labelFontSize": 12, "labelColor": "#444", "labelPadding": 5,
  "title": "CV3 8.33\u00a0\u00a0%", "titleFont": "Liberation Serif", "titleFontWeight": "bold", "titleFontSize": 26, "titleColor": "#111",
  "titleAngle": 0, "titleX": -160, "titleY": 111, "titleAlign": "left", "titleBaseline": "middle"}},
"color": {"field": "g", "type": "nominal", "scale": {"domain": ["IPM", "ILM", "ILF", "IPF"], "range": ["#7d00f5", "#7dea18", "#ee0a0a", "#14e3ea"]}, "legend": null}
}
}
],
"resolve": {"scale": {"x": "independent", "y": "independent"}}
}
